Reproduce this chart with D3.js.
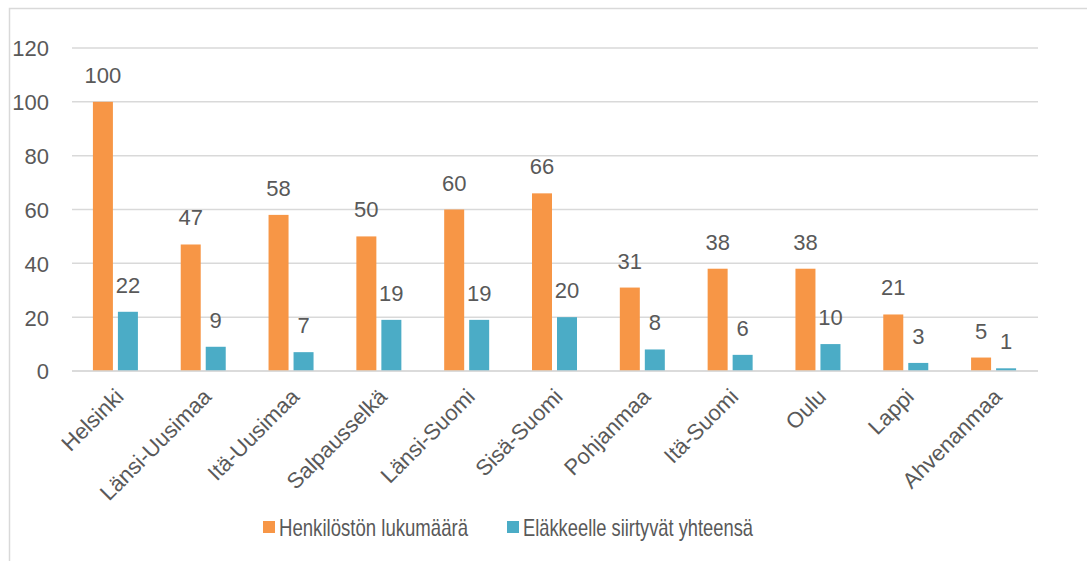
<!DOCTYPE html>
<html><head><meta charset="utf-8">
<script src="https://cdn.jsdelivr.net/npm/d3@7"></script>
<style>body{margin:0;background:#fff}text{font-family:"Liberation Sans",Arial,sans-serif;fill:#595959}</style>
</head><body>
<svg id="c" width="1087" height="561"></svg>
<script>
const categories = ["Helsinki","Länsi-Uusimaa","Itä-Uusimaa","Salpausselkä","Länsi-Suomi","Sisä-Suomi","Pohjanmaa","Itä-Suomi","Oulu","Lappi","Ahvenanmaa"];
const seriesNames = ["Henkilöstön lukumäärä","Eläkkeelle siirtyvät yhteensä"];
const henkilosto = [100,47,58,50,60,66,31,38,38,21,5];
const elakkeelle = [22,9,7,19,19,20,8,6,10,3,1];
const yTicks = [0,20,40,60,80,100,120];
const colors = ["#F79646","#4BACC6"];

const svg = d3.select("#c");
// chart area border
svg.append("rect").attr("x",9.5).attr("y",8.5).attr("width",1100).attr("height",600)
  .attr("fill","none").attr("stroke","#D9D9D9").attr("stroke-width",1.5);

const pL=72, pR=1038, pT=48, pB=371;
const x = d3.scaleBand().domain(categories).range([pL,pR]);
const y = d3.scaleLinear().domain([0,120]).range([pB,pT]);
const barW = 20, gap = 5;

// gridlines
svg.append("g").selectAll("line").data(yTicks).join("line")
  .attr("x1",pL).attr("x2",pR).attr("y1",d=>y(d)).attr("y2",d=>y(d))
  .attr("stroke","#D9D9D9").attr("stroke-width",1.5);

// y axis labels
const yAxis = d3.axisLeft(y).tickValues(yTicks).tickSize(0).tickPadding(0);
const ga = svg.append("g").attr("transform","translate(49,0)").call(yAxis);
ga.select(".domain").remove();
ga.selectAll("text").attr("font-size",22).attr("fill","#595959").attr("font-family","Liberation Sans, Arial, sans-serif").attr("dy","0.36em");

const series = [henkilosto, elakkeelle];
series.forEach((vals,si)=>{
  const off = si===0 ? -(barW+gap/2) : gap/2;
  const g = svg.append("g");
  g.selectAll("rect").data(vals).join("rect")
    .attr("x",(d,i)=>x(categories[i])+x.bandwidth()/2+off - 0.5)
    .attr("y",d=>y(d)).attr("width",barW).attr("height",d=>y(0)-y(d))
    .attr("fill",colors[si]);
  g.selectAll("text").data(vals).join("text")
    .attr("x",(d,i)=>x(categories[i])+x.bandwidth()/2+off+barW/2 - 0.5)
    .attr("y",d=>y(d)-19).attr("text-anchor","middle").attr("font-size",22)
    .text(d=>d);
});

// axis baseline
svg.append("line").attr("x1",pL).attr("x2",pR).attr("y1",y(0)).attr("y2",y(0))
  .attr("stroke","#D9D9D9").attr("stroke-width",1.5);

// x labels
svg.append("g").selectAll("text").data(categories).join("text")
  .attr("transform",d=>`translate(${x(d)+x.bandwidth()/2-2},${y(0)+16}) rotate(-45)`)
  .attr("text-anchor","end").attr("dy","0.71em").attr("font-size",22).text(d=>d);

// legend
const leg = [{x:263,t:seriesNames[0],c:colors[0],w:189},{x:507,t:seriesNames[1],c:colors[1],w:230}];
const lg = svg.append("g").selectAll("g").data(leg).join("g").attr("transform",d=>`translate(${d.x},521)`);
lg.append("rect").attr("width",12).attr("height",12).attr("fill",d=>d.c);
lg.append("text").attr("x",16).attr("y",6).attr("dy","0.36em").attr("font-size",24)
  .attr("textLength",d=>d.w).attr("lengthAdjust","spacingAndGlyphs").text(d=>d.t);
</script>
</body></html>
